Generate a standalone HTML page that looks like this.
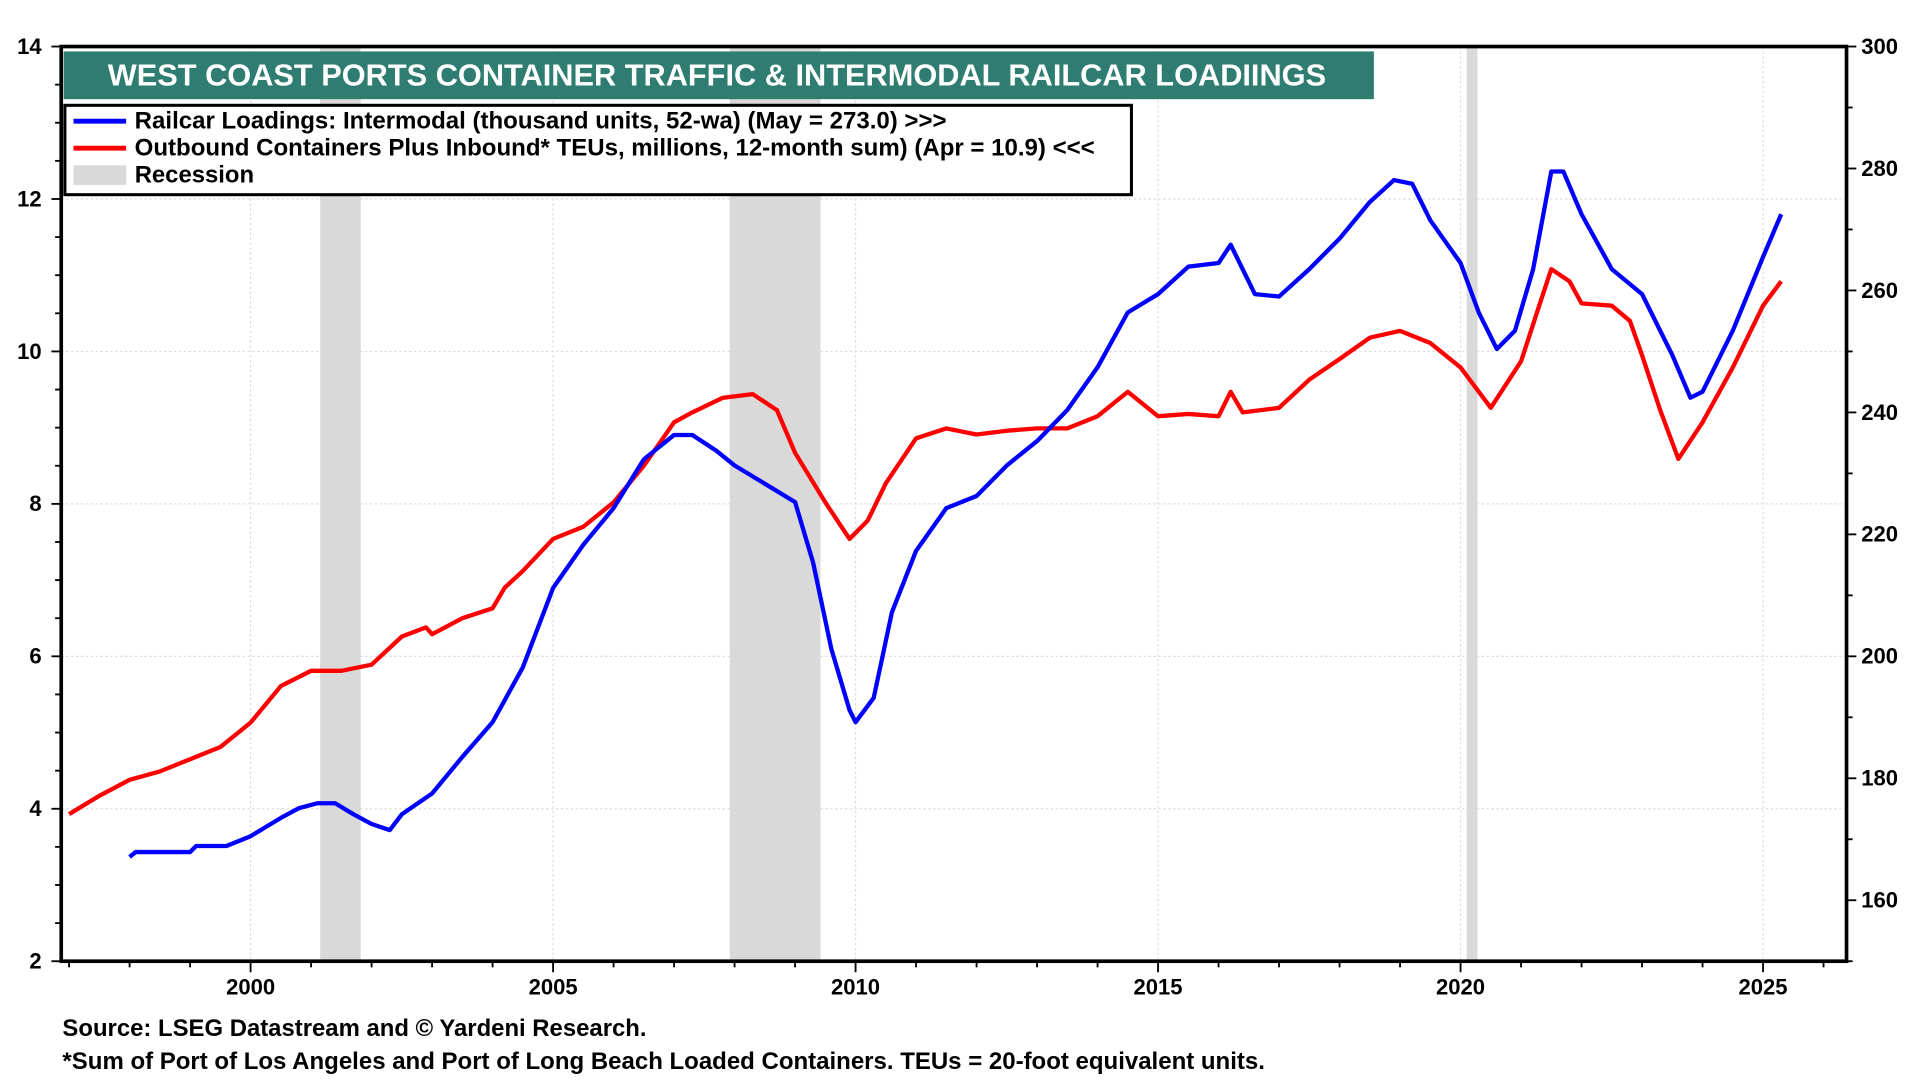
<!DOCTYPE html>
<html><head><meta charset="utf-8">
<style>
html,body{margin:0;padding:0;background:#fff;}
svg{display:block;font-family:"Liberation Sans",Arial,sans-serif;}
</style></head>
<body>
<svg id="chart" width="1920" height="1080" viewBox="0 0 1568 882" xmlns="http://www.w3.org/2000/svg">
<g id="grid"></g>
<g id="rec"></g>
<g id="series"></g>
<g id="axes"></g>
<rect x="50" y="38" width="1458" height="747" fill="none" stroke="#000" stroke-width="3"/>
<rect x="52" y="42" width="1070" height="39" fill="#2e7d70"/>
<text x="88" y="70" fill="#fff" font-size="24.8" font-weight="bold" textLength="995" lengthAdjust="spacingAndGlyphs">WEST COAST PORTS CONTAINER TRAFFIC &amp; INTERMODAL RAILCAR LOADIINGS</text>
<g>
<rect x="53" y="86" width="871" height="73" fill="#fff" stroke="#000" stroke-width="2.5"/>
<line x1="60" y1="99" x2="103" y2="99" stroke="#0000ff" stroke-width="4"/>
<text x="110" y="105" font-size="19.5" font-weight="bold" textLength="663" lengthAdjust="spacingAndGlyphs">Railcar Loadings: Intermodal (thousand units, 52-wa) (May = 273.0) &gt;&gt;&gt;</text>
<line x1="60" y1="121" x2="103" y2="121" stroke="#ff0000" stroke-width="4"/>
<text x="110" y="127" font-size="19.5" font-weight="bold" textLength="784" lengthAdjust="spacingAndGlyphs">Outbound Containers Plus Inbound* TEUs, millions, 12-month sum) (Apr = 10.9) &lt;&lt;&lt;</text>
<rect x="60" y="135" width="43" height="16" fill="#d9d9d9"/>
<text x="110" y="149" font-size="19.5" font-weight="bold">Recession</text>
</g>
<text x="51" y="846" font-size="19.5" font-weight="bold" textLength="477" lengthAdjust="spacingAndGlyphs">Source: LSEG Datastream and © Yardeni Research.</text>
<text x="51" y="873" font-size="19.5" font-weight="bold" textLength="982" lengthAdjust="spacingAndGlyphs">*Sum of Port of Los Angeles and Port of Long Beach Loaded Containers. TEUs = 20-foot equivalent units.</text>
</svg>
<script>
const redYears=[1997.0,1997.5,1998.0,1998.5,1999.0,1999.5,2000.0,2000.5,2001.0,2001.5,2002.0,2002.5,2002.9,2003.0,2003.5,2004.0,2004.2,2004.5,2005.0,2005.5,2006.0,2006.5,2007.0,2007.3,2007.8,2008.3,2008.7,2009.0,2009.5,2009.9,2010.2,2010.5,2011.0,2011.5,2012.0,2012.5,2013.0,2013.5,2014.0,2014.5,2015.0,2015.5,2016.0,2016.2,2016.4,2017.0,2017.5,2018.0,2018.5,2019.0,2019.5,2020.0,2020.5,2021.0,2021.3,2021.5,2021.8,2022.0,2022.5,2022.8,2023.0,2023.3,2023.6,2024.0,2024.5,2025.0,2025.3];
const redValues=[3.93,4.17,4.38,4.49,4.65,4.81,5.13,5.61,5.81,5.81,5.89,6.26,6.38,6.29,6.5,6.63,6.9,7.12,7.54,7.7,8.02,8.5,9.07,9.2,9.39,9.44,9.23,8.67,8.02,7.54,7.78,8.27,8.86,8.99,8.91,8.96,8.99,8.99,9.15,9.47,9.15,9.18,9.15,9.47,9.2,9.26,9.63,9.9,10.18,10.27,10.11,9.79,9.26,9.87,10.6,11.08,10.92,10.63,10.6,10.4,9.95,9.23,8.59,9.07,9.79,10.6,10.92];
const blueYears=[1998.0,1998.1,1999.0,1999.1,1999.6,2000.0,2000.5,2000.8,2001.1,2001.4,2001.7,2002.0,2002.3,2002.5,2003.0,2003.5,2004.0,2004.5,2005.0,2005.5,2006.0,2006.5,2007.0,2007.3,2007.7,2008.0,2008.5,2009.0,2009.3,2009.6,2009.9,2010.0,2010.3,2010.6,2011.0,2011.5,2012.0,2012.5,2013.0,2013.5,2014.0,2014.5,2015.0,2015.5,2016.0,2016.2,2016.6,2017.0,2017.5,2018.0,2018.5,2018.9,2019.2,2019.5,2020.0,2020.3,2020.6,2020.9,2021.2,2021.5,2021.7,2022.0,2022.5,2023.0,2023.5,2023.8,2024.0,2024.5,2025.0,2025.3];
const blueValues=[167.1,167.9,167.9,168.9,168.9,170.5,173.5,175.1,175.9,175.9,174.1,172.5,171.5,174.1,177.5,183.5,189.2,198.2,211.2,218.3,224.3,232.3,236.3,236.3,233.7,231.3,228.3,225.3,215.3,201.2,191.2,189.2,193.2,207.2,217.3,224.3,226.3,231.3,235.3,240.4,247.4,256.4,259.4,263.9,264.5,267.5,259.4,259.0,263.5,268.5,274.5,278.1,277.5,271.5,264.5,256.4,250.4,253.4,263.5,279.5,279.5,272.5,263.5,259.4,249.4,242.4,243.4,253.4,265.5,272.5];
const recStarts=[2001.15,2007.92,2020.1];
const recEnds=[2001.82,2009.42,2020.28];
const leftTicks=[2,4,6,8,10,12,14];
const rightTicks=[160,180,200,220,240,260,280,300];
const xTicks=[2000,2005,2010,2015,2020,2025];

const PL=50,PR=1508,PT=38,PB=785;
const X0=1996.87,X1=2026.38;
const xs=v=>PL+(v-X0)/(X1-X0)*(PR-PL);
const yl=v=>PB-(v-2)/(14-2)*(PB-PT);
const yr=v=>PB-(v-150)/(300-150)*(PB-PT);
const NS='http://www.w3.org/2000/svg';
function mk(tag,attrs,parent){const e=document.createElementNS(NS,tag);for(const k in attrs)e.setAttribute(k,attrs[k]);parent.appendChild(e);return e;}
const grid=document.getElementById('grid'),rec=document.getElementById('rec'),ser=document.getElementById('series'),axes=document.getElementById('axes');

leftTicks.forEach(t=>{const l=mk('line',{x1:PL,x2:PR,y1:yl(t),y2:yl(t),stroke:'#ddd','stroke-dasharray':'2,2'},grid);


const tx=mk('text',{x:PL-16,y:yl(t)+6,'text-anchor':'end','font-size':'18','font-weight':'bold'},axes);tx.textContent=t;


});
for(let v=2;v<=14.001;v+=0.5){const l=mk('line',{x1:PL-(v%2===0?8:5),x2:PL,y1:yl(v),y2:yl(v),stroke:'#000','stroke-width':1.5},axes);

}
rightTicks.forEach(t=>{const tx=mk('text',{x:PR+12,y:yr(t)+6,'font-size':'18','font-weight':'bold'},axes);tx.textContent=t;


});
for(let v=150;v<=300;v+=10){const l=mk('line',{x1:PR,x2:PR+(v%20===0?8:5),y1:yr(v),y2:yr(v),stroke:'#000','stroke-width':1.5},axes);

}
xTicks.forEach(t=>{const l=mk('line',{x1:xs(t),x2:xs(t),y1:PT,y2:PB,stroke:'#ddd','stroke-dasharray':'2,2'},grid);


const tx=mk('text',{x:xs(t),y:PB+27,'text-anchor':'middle','font-size':'18','font-weight':'bold'},axes);tx.textContent=t;


});
for(let y=1997;y<=2026;y++){const l=mk('line',{x1:xs(y),x2:xs(y),y1:PB,y2:PB+(y%5===0?9:5),stroke:'#000','stroke-width':1.5},axes);

}
recStarts.forEach((s,i)=>{const r=mk('rect',{x:xs(s),y:PT,width:xs(recEnds[i])-xs(s),height:PB-PT,fill:'#d9d9d9'},rec);

});
const rp=mk('polyline',{points:redYears.map((y,i)=>xs(y)+','+yl(redValues[i])).join(' '),fill:'none',stroke:'#ff0000','stroke-width':3.5,'stroke-linejoin':'round'},ser);


const bp=mk('polyline',{points:blueYears.map((y,i)=>xs(y)+','+yr(blueValues[i])).join(' '),fill:'none',stroke:'#0000ff','stroke-width':3.5,'stroke-linejoin':'round'},ser);


</script>
</body></html>
